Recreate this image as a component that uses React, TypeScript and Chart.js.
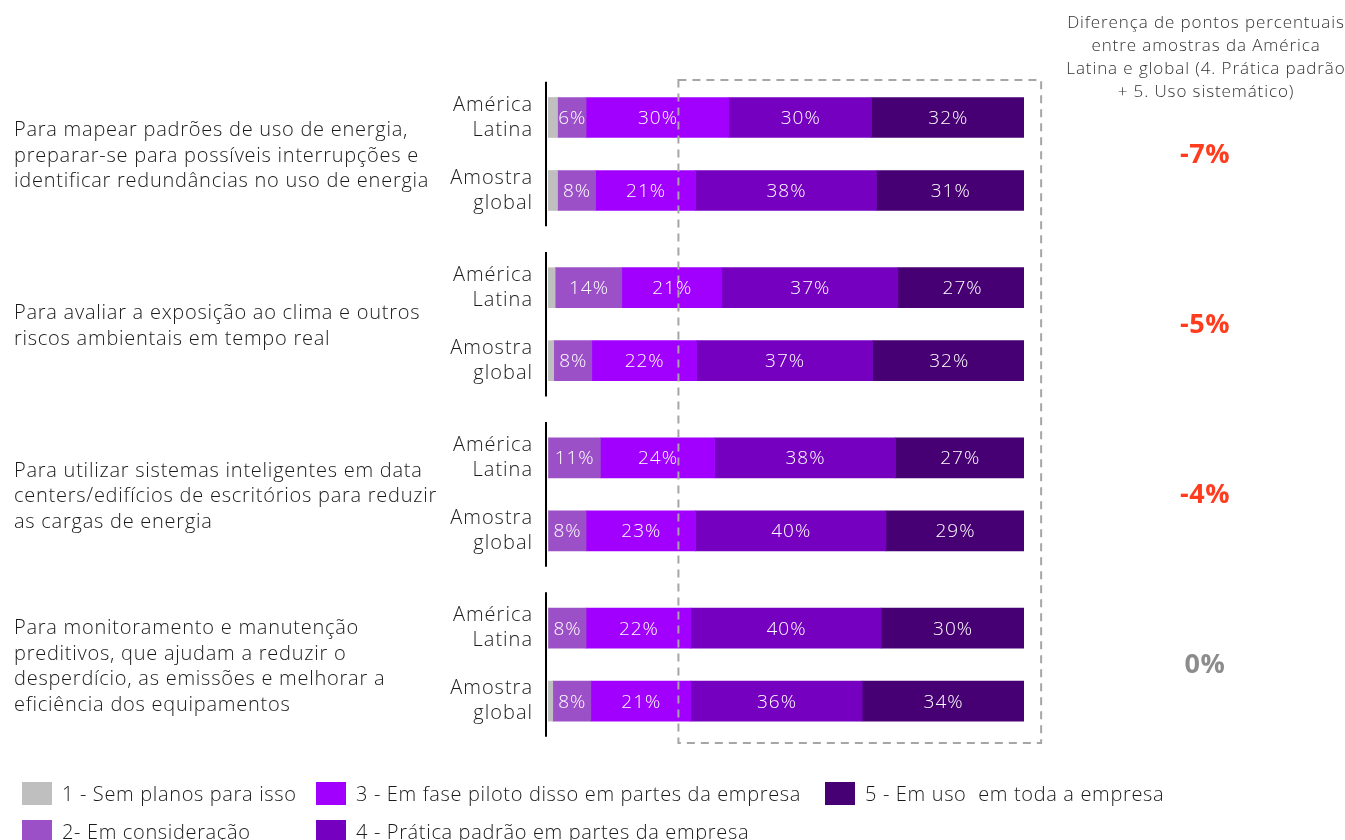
import React, { useEffect, useRef } from "react";
import { Chart, registerables } from "chart.js";

Chart.register(...registerables);

const questions: string[][] = [
  ["Para mapear padrões de uso de energia,", "preparar-se para possíveis interrupções e", "identificar redundâncias no uso de energia"],
  ["Para avaliar a exposição ao clima e outros", "riscos ambientais em tempo real"],
  ["Para utilizar sistemas inteligentes em data", "centers/edifícios de escritórios para reduzir", "as cargas de energia"],
  ["Para monitoramento e manutenção", "preditivos, que ajudam a reduzir o", "desperdício, as emissões e melhorar a", "eficiência dos equipamentos"],
];
const samples: string[][] = [["América", "Latina"], ["Amostra", "global"]];
const differences = ["-7%", "-5%", "-4%", "0%"];
const differenceTitle = ["Diferença de pontos percentuais", "entre amostras da América", "Latina e global (4. Prática padrão", "+ 5. Uso sistemático)"];
const seriesNames = [
  "1 - Sem planos para isso",
  "2- Em consideração",
  "3 - Em fase piloto disso em partes da empresa",
  "4 - Prática padrão em partes da empresa",
  "5 - Em uso  em toda a empresa",
];
// rows: Q1 LatAm, Q1 global, Q2 LatAm, Q2 global, Q3 LatAm, Q3 global, Q4 LatAm, Q4 global
const noPlans = [2, 2, 1.5, 1.2, 0, 0, 0, 1];
const considering = [6, 8, 14, 8, 11, 8, 8, 8];
const pilot = [30, 21, 21, 22, 24, 23, 22, 21];
const standard = [30, 38, 37, 37, 38, 40, 40, 36];
const enterprise = [32, 31, 27, 32, 27, 29, 30, 34];

const seriesValues = [noPlans, considering, pilot, standard, enterprise];
const seriesColors = ["#BFBFBF", "#9B50C8", "#A100FF", "#7500C0", "#460073"];

const GROUP_STEP = 2.3315;
const rowPositions: number[] = [];
questions.forEach((_, g) => {
  samples.forEach((__, r) => rowPositions.push(g * GROUP_STEP + r));
});

const FONT = "'Open Sans', Roboto, sans-serif";

export default function App() {
  const canvasRef = useRef<HTMLCanvasElement | null>(null);

  useEffect(() => {
    const canvas = canvasRef.current;
    if (!canvas) return;

    const spacing = {
      id: "spacing",
      beforeDraw(chart: any) {
        chart.ctx.letterSpacing = "1px";
      },
      afterDraw(chart: any) {
        chart.ctx.letterSpacing = "0px";
      },
    };

    const decorations = {
      id: "decorations",
      afterDatasetsDraw(chart: any) {
        const { ctx, chartArea } = chart;
        const xs = chart.scales.x;
        const ys = chart.scales.y;
        ctx.save();
        // dashed box
        ctx.strokeStyle = "#A6A6A6";
        ctx.lineWidth = 2;
        ctx.setLineDash([8, 6]);
        const bx0 = xs.getPixelForValue(27.4);
        const bx1 = xs.getPixelForValue(103.6);
        ctx.strokeRect(bx0, chartArea.top - 2, bx1 - bx0, chartArea.bottom - chartArea.top + 7);
        ctx.setLineDash([]);

        // bar value labels
        ctx.fillStyle = "#FFFFFF";
        ctx.font = `300 19px ${FONT}`;
        ctx.letterSpacing = "1px";
        ctx.textAlign = "center";
        ctx.textBaseline = "middle";
        chart.data.datasets.forEach((ds: any, di: number) => {
          if (di === 0) return;
          const meta = chart.getDatasetMeta(di);
          meta.data.forEach((el: any, i: number) => {
            const v = seriesValues[di][i];
            if (v < 4) return;
            const cx = (el.x + el.base) / 2;
            ctx.fillText(`${v}%`, cx + 0.5, el.y + 1);
          });
        });

        // axis segments per question
        ctx.strokeStyle = "#000000";
        ctx.lineWidth = 2;
        questions.forEach((_, g) => {
          const y0 = ys.getPixelForValue(g * GROUP_STEP - 0.49);
          const y1 = ys.getPixelForValue(g * GROUP_STEP + 1.49);
          ctx.beginPath();
          ctx.moveTo(chartArea.left - 2, y0);
          ctx.lineTo(chartArea.left - 2, y1);
          ctx.stroke();
        });

        // question labels & differences
        questions.forEach((lines, g) => {
          const cy = ys.getPixelForValue(g * GROUP_STEP + 0.5) + 2;
          const lh = 25.5;
          ctx.fillStyle = "#1A1A1A";
          ctx.font = `300 20px ${FONT}`;
          ctx.letterSpacing = "0.75px";
          ctx.textAlign = "left";
          ctx.textBaseline = "middle";
          lines.forEach((line, li) => {
            ctx.fillText(line, 14, cy + (li - (lines.length - 1) / 2) * lh);
          });
          const d = differences[g];
          ctx.fillStyle = d === "0%" ? "#8C8C8C" : "#FF3C1E";
          ctx.font = `700 27px ${FONT}`;
          ctx.letterSpacing = "0.5px";
          ctx.textAlign = "center";
          ctx.fillText(d, 1205, ys.getPixelForValue(g * GROUP_STEP + 0.5) + 1);
        });
        ctx.restore();
      },
    };

    const chart = new Chart(canvas, {
      type: "bar",
      data: {
        datasets: seriesValues.map((vals, si) => ({
          label: seriesNames[si],
          data: vals.map((v, i) => ({ x: v, y: rowPositions[i] })),
          backgroundColor: seriesColors[si],
          borderWidth: 0,
          barThickness: 40,
        })),
      },
      options: {
        indexAxis: "y",
        animation: false,
        responsive: false,
        devicePixelRatio: 1,
        layout: { padding: { top: 82, bottom: 102, right: 321, left: 0 } },
        plugins: { legend: { display: false }, tooltip: { enabled: false } },
        scales: {
          x: { type: "linear", stacked: true, min: 0, max: 100, display: false },
          y: {
            type: "linear",
            stacked: true,
            reverse: true,
            offset: false,
            min: -0.486,
            max: 8.5,
            grid: { display: false, drawTicks: false },
            border: { display: false },
            afterFit: (scale: any) => {
              scale.width = 548;
            },
            afterBuildTicks: (scale: any) => {
              scale.ticks = rowPositions.map((v) => ({ value: v }));
            },
            ticks: {
              autoSkip: false,
              padding: 15,
              color: "#1A1A1A",
              font: { family: FONT, size: 20, weight: 300 as any, lineHeight: 1.25 },
              callback: (_v: any, index: number) => samples[index % 2],
            },
          },
        },
      } as any,
      plugins: [spacing, decorations],
    });
    return () => chart.destroy();
  }, []);

  const legendItem = (si: number, left: number, top: number) => (
    <div key={si} style={{ position: "absolute", left, top, display: "flex", alignItems: "center", height: 24 }}>
      <div style={{ width: 30, height: 23, background: seriesColors[si], marginRight: 10 }} />
      <span style={{ font: `300 20px ${FONT}`, color: "#1A1A1A", whiteSpace: "pre", letterSpacing: "0.65px" }}>
        {seriesNames[si]}
      </span>
    </div>
  );

  return (
    <div style={{ position: "relative", width: 1345, height: 840, overflow: "hidden", background: "#fff" }}>
      <style>{`body{margin:0}`}</style>
      <canvas ref={canvasRef} width={1345} height={840} style={{ position: "absolute", left: 0, top: 0 }} />
      <div
        style={{
          position: "absolute",
          left: 1056,
          top: 10,
          width: 300,
          textAlign: "center",
          font: `300 17px ${FONT}`,
          letterSpacing: "0.9px",
          lineHeight: "23px",
          color: "#333",
        }}
      >
        {differenceTitle.map((l, i) => (
          <div key={i}>{l}</div>
        ))}
      </div>
      {legendItem(0, 22, 781)}
      {legendItem(2, 316, 781)}
      {legendItem(4, 825, 781)}
      {legendItem(1, 22, 819)}
      {legendItem(3, 316, 819)}
    </div>
  );
}
